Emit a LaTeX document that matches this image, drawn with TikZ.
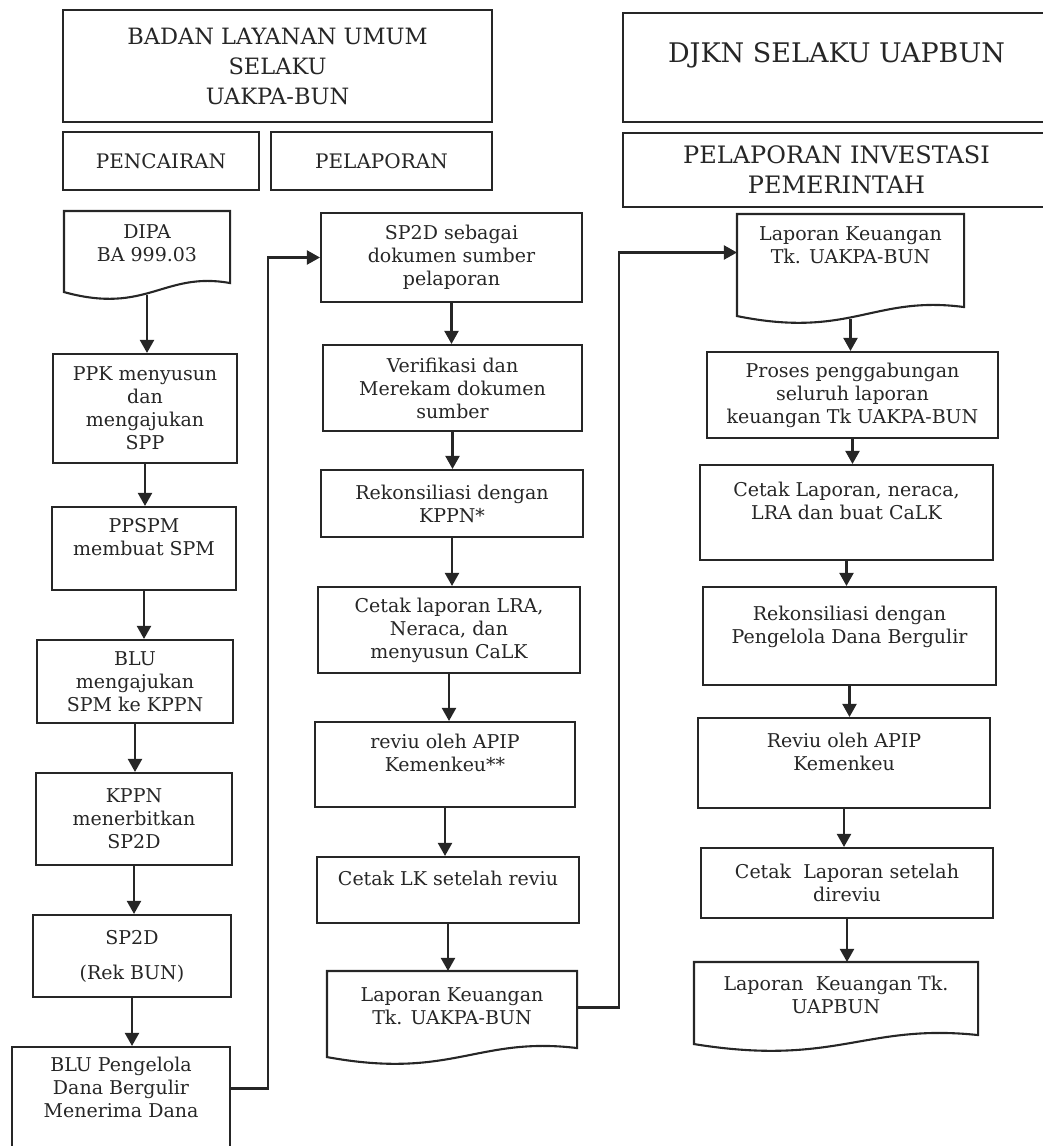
\documentclass[tikz,border=0pt]{standalone}
\usepackage{fontspec}
\setmainfont{DejaVu Serif}
\usetikzlibrary{arrows.meta,calc}

\begin{document}
\begin{tikzpicture}[x=1pt,y=1pt,line width=2.1pt,color=black!85,>={Triangle[width=14pt,length=13pt]}]

	\useasboundingbox (0,0) rectangle (1042,-1146);

	\begin{scope}[every node/.style={draw,rectangle,align=center,inner sep=0pt}]
		\node (badan) at (277.5,-66) [minimum width=429pt,minimum height=112pt,font=\fontsize{22.5}{30}\selectfont] {BADAN LAYANAN UMUM\\SELAKU\\UAKPA-BUN};
		\node (djkn) at (836.5,-67.5) [minimum width=427pt,minimum height=109pt,font=\fontsize{27}{30}\selectfont] {DJKN SELAKU UAPBUN\\~};
		\node (pencairan) at (161,-161) [minimum width=196pt,minimum height=58pt,font=\fontsize{20}{24}\selectfont] {PENCAIRAN};
		\node (pelaporan) at (381.5,-161) [minimum width=221pt,minimum height=58pt,font=\fontsize{20}{24}\selectfont] {PELAPORAN};
		\node (investasi) at (836.5,-170) [minimum width=427pt,minimum height=74pt,font=\fontsize{24}{30}\selectfont] {PELAPORAN INVESTASI\\PEMERINTAH};
	\end{scope}

	\begin{scope}[every node/.style={draw,rectangle,align=center,inner sep=0pt,font=\fontsize{19}{23}\selectfont}]
		\node (dipa) at (147,-255) [draw=none,minimum width=164pt,minimum height=86pt] {DIPA\\BA 999.03\\~};
		\node (ppk) at (145,-408.5) [minimum width=184pt,minimum height=109pt] {PPK menyusun\\dan\\mengajukan\\SPP};
		\node (ppspm) at (144,-548.5) [minimum width=184pt,minimum height=83pt] {PPSPM\\membuat SPM\\~};
		\node (blu) at (135,-681.5) [minimum width=196pt,minimum height=83pt] {BLU\\mengajukan\\SPM ke KPPN};
		\node (kppn) at (134,-819) [minimum width=196pt,minimum height=92pt] {KPPN\\menerbitkan\\SP2D};
		\node (sp2d) at (132,-956) [minimum width=198pt,minimum height=82pt] {SP2D\\[12pt](Rek BUN)};
		\node (blup) at (121,-1098.5) [minimum width=218pt,minimum height=103pt] {BLU Pengelola\\Dana Bergulir\\Menerima Dana\\~};

		\node (sp2ds) at (451.5,-257.5) [minimum width=261pt,minimum height=89pt] {SP2D sebagai\\dokumen sumber\\pelaporan};
		\node (verif) at (452.5,-388) [minimum width=259pt,minimum height=86pt] {Verifikasi dan\\Merekam dokumen\\sumber};
		\node (rekon) at (452,-503.5) [minimum width=262pt,minimum height=67pt] {Rekonsiliasi dengan\\KPPN*};
		\node (cetaklra) at (449,-630) [minimum width=262pt,minimum height=86pt] {Cetak laporan LRA,\\Neraca, dan\\menyusun CaLK};
		\node (reviu) at (445,-764.5) [minimum width=260pt,minimum height=85pt] {reviu oleh APIP\\Kemenkeu**\\~};
		\node (cetaklk) at (448,-890) [minimum width=262pt,minimum height=66pt] {Cetak LK setelah reviu\\~};
		\node (lapa) at (452,-1017.5) [draw=none,minimum width=248pt,minimum height=91pt] {Laporan Keuangan\\Tk. UAKPA-BUN\\~};

		\node (lapb) at (850.5,-268.5) [draw=none,minimum width=225pt,minimum height=107pt] {Laporan Keuangan\\Tk. UAKPA-BUN\\~\\~};
		\node (proses) at (852.5,-395) [minimum width=291pt,minimum height=86pt] {Proses penggabungan\\seluruh laporan\\keuangan Tk UAKPA-BUN};
		\node (neraca) at (846.5,-512.5) [minimum width=293pt,minimum height=95pt] {Cetak Laporan, neraca,\\LRA dan buat CaLK\\~};
		\node (rekondana) at (849.5,-636) [minimum width=293pt,minimum height=98pt] {Rekonsiliasi dengan\\Pengelola Dana Bergulir\\~};
		\node (reviub) at (844,-763) [minimum width=292pt,minimum height=90pt] {Reviu oleh APIP\\Kemenkeu\\~};
		\node (direviu) at (847,-883) [minimum width=292pt,minimum height=70pt] {Cetak\ \ Laporan setelah\\direviu};
		\node (lapc) at (836,-1006.5) [draw=none,minimum width=282pt,minimum height=87pt] {Laporan\ \ Keuangan Tk.\\UAPBUN\\~};
	\end{scope}

	\foreach \d in {dipa,lapa,lapb,lapc}
		\draw (\d.north west) -- (\d.north east) -- ([yshift=16]\d.south east)
			.. controls ($(\d.south west)!0.6!(\d.south east)+(0,28)$) and ($(\d.south west)!0.5!(\d.south east)+(0,-16)$) .. ([yshift=7]\d.south west) -- cycle;

	\draw[->] ([yshift=4]dipa.south) -- (dipa |- ppk.north);
	\draw[->] (ppk) -- (ppk |- ppspm.north);
	\draw[->] (ppspm) -- (ppspm |- blu.north);
	\draw[->] (blu) -- (blu |- kppn.north);
	\draw[->] (kppn) -- (kppn |- sp2d.north);
	\draw[->] (sp2d) -- (sp2d |- blup.north);

	\draw[->] (sp2ds) -- (sp2ds |- verif.north);
	\draw[->] (verif) -- (verif |- rekon.north);
	\draw[->] (rekon) -- (rekon |- cetaklra.north);
	\draw[->] (cetaklra) -- (cetaklra |- reviu.north);
	\draw[->] (reviu) -- (reviu |- cetaklk.north);
	\draw[->] (cetaklk) -- (cetaklk |- lapa.north);

	\draw[->] ([yshift=4]lapb.south) -- (lapb |- proses.north);
	\draw[->] (proses) -- (proses |- neraca.north);
	\draw[->] (neraca) -- (neraca |- rekondana.north);
	\draw[->] (rekondana) -- (rekondana |- reviub.north);
	\draw[->] (reviub) -- (reviub |- direviu.north);
	\draw[->] (direviu) -- (direviu |- lapc.north);

	\draw[->] ([yshift=10]blup.east) -- ++(37,0) |- (sp2ds.west);
	\draw[->] ([yshift=10]lapa.east) -- ++(42,0) |- ([yshift=16]lapb.west);

\end{tikzpicture}
\end{document}
